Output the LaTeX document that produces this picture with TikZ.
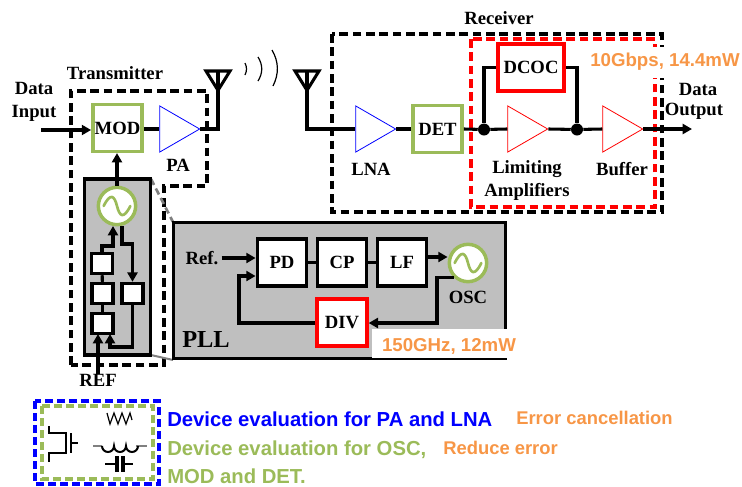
\documentclass[tikz,border=0pt]{standalone}
\usepackage{fontspec}
\setmainfont{Liberation Serif}
\setsansfont{Liberation Sans}
\usetikzlibrary{shapes.geometric,arrows.meta}
\definecolor{boxgreen}{HTML}{9BBB59}
\definecolor{noteorange}{HTML}{F79646}
\definecolor{panelgray}{HTML}{BFBFBF}
\tikzset{
    wire/.style={line width=2.3pt},
    arrowwire/.style={wire, -{Triangle[length=7pt,width=7.5pt]}},
    block/.style={draw, line width=2.6pt, fill=white, inner sep=0pt, font=\bfseries\fontsize{14}{16}\selectfont},
    greenblock/.style={block, draw=boxgreen, minimum width=37pt, minimum height=35pt},
    blackblock/.style={block, minimum width=37pt, minimum height=35pt},
    redblock/.style={block, draw=red, line width=3pt, minimum width=37pt, minimum height=35pt},
    tinyblock/.style={block, minimum width=16pt, minimum height=15pt},
    amp/.style={isosceles triangle, isosceles triangle apex angle=60, draw, line width=0.6pt,
        fill=white, inner sep=0pt, minimum height=30pt, minimum width=34.5pt},
    osc/.style={circle, draw=boxgreen, line width=2.6pt, fill=white, minimum size=28pt, inner sep=0pt},
    lab/.style={font=\bfseries\fontsize{14}{16}\selectfont, inner sep=0pt},
    note/.style={font=\sffamily\bfseries\fontsize{14}{16}\selectfont, text=noteorange, inner sep=0pt},
    legend/.style={font=\sffamily\bfseries\fontsize{15.2}{18}\selectfont, inner sep=0pt, anchor=west},
    dot/.style={circle, fill=black, minimum size=9pt, inner sep=0pt},
    blackdash/.style={line width=2.3pt, dash pattern=on 6.5pt off 3.5pt},
    reddash/.style={line width=2.6pt, draw=red, dash pattern=on 6.5pt off 3.5pt},
    legendframe/.style={line width=2.3pt, dash pattern=on 6pt off 3pt},
}
\newcommand{\sinewave}[1]{\draw[boxgreen, line width=2pt, line cap=round] ([xshift=-10pt]#1.center) .. controls ([xshift=-5pt,yshift=10pt]#1.center) and ([xshift=-2pt,yshift=8pt]#1.center) .. (#1.center) .. controls ([xshift=2pt,yshift=-8pt]#1.center) and ([xshift=5pt,yshift=-10pt]#1.center) .. ([xshift=10pt]#1.center);}
\newcommand{\antenna}[1]{\draw[wire, line join=miter] ([xshift=-9pt]#1) -- ([xshift=9pt]#1) -- ([yshift=-14.5pt]#1) -- cycle;}
\begin{document}
\begin{tikzpicture}[x=0.75pt, y=-0.75pt]
    \useasboundingbox (0,0) rectangle (742,486);

    % --- Receiver frames ---
    \draw[blackdash] (332,34) rectangle (662,212);
    \draw[reddash] (471,39) rectangle (655,207);

    % --- Transmitter frame ---
    \draw[blackdash] (71,365) -- (71,91) -- (207,91) -- (207,186) -- (164,186) -- (164,365) -- cycle;

    % --- Transmitter ---
    \node[lab] (datain1) at (34,88) {Data};
    \node[lab] (datain2) at (34,113) {Input};
    \node[lab] (txlabel) at (115,73) {Transmitter};
    \coordinate (datastart) at (41,130);
    \node[greenblock] (mod) at (117.5,128) {MOD};
    \node[amp, draw=blue] (pa) at (173,129) {};
    \node[lab] (palabel) at (178,165) {PA};
    \coordinate (txant) at (218,71);
    \coordinate (txcorner) at (218,129);
    \antenna{txant}
    \draw[arrowwire] (datastart) -- (mod.west |- datastart);
    \draw[wire] (mod.east |- pa.west) -- (pa.west);
    \draw[wire] (pa.apex) -- (txcorner) -- (txant);

    % Radio waves
    \draw[line width=0.9pt] (245,63) .. controls (247,67) and (247,71) .. (245,75);
    \draw[line width=0.9pt] (258,57) .. controls (263,65) and (263,73) .. (258,81);
    \draw[line width=0.9pt] (272,50) .. controls (279,62) and (279,74) .. (273,86);

    % --- Zoom lines ---
    \coordinate (zoomb) at (173,222);
    \coordinate (zoomc) at (173,360);
    \draw[gray, line width=2pt, dash pattern=on 5pt off 3pt] (151,179) -- (zoomb);
    \draw[gray, line width=1.5pt] (151,355) -- (zoomc);

    % --- Small PLL ---
    \node[draw, line width=2.3pt, fill=panelgray, minimum width=50pt, minimum height=132pt, inner sep=0pt] (smallpll) at (117.5,267) {};
    \node[osc] (smallosc) at (117,206) {};
    \sinewave{smallosc}
    \draw[arrowwire] (smallosc.north) -- (smallosc.north |- mod.south);
    \node[tinyblock] (boxa) at (102,263.5) {};
    \node[tinyblock] (boxb) at (102.5,293.5) {};
    \node[tinyblock] (boxc) at (102.5,323.5) {};
    \node[tinyblock] (boxd) at (132.5,293.5) {};
    \draw[wire] (boxa) -- (boxb);
    \draw[wire] (boxb) -- (boxc);
    \draw[arrowwire] (boxa.north) |- (113,246) -- (113,226);
    \draw[arrowwire] (122,226) |- (132.5,244) -- (boxd.north);
    \draw[arrowwire] (boxd.south) -- (132.5,347) -| (110,334);
    \node[lab] (reflabel) at (98,380) {REF};
    \draw[arrowwire] (reflabel.north -| 98,0) -- (98,334);

    % --- Large PLL ---
    \node[draw, line width=2.6pt, fill=panelgray, minimum width=249pt, minimum height=102pt, inner sep=0pt] (pll) at (339.5,290.5) {};
    \node[font=\bfseries\fontsize{18.3}{20}\selectfont, inner sep=0pt] (plllabel) at (206,340) {PLL};
    \node[lab] (reflab) at (202,258) {Ref.};
    \node[blackblock] (pd) at (282,262.5) {PD};
    \node[blackblock] (cp) at (342,262.5) {CP};
    \node[blackblock] (lf) at (402,262.5) {LF};
    \node[osc] (osc) at (468,263) {};
    \sinewave{osc}
    \node[lab] (osclabel) at (468,297) {OSC};
    \node[redblock] (div) at (342,322.5) {DIV};
    \draw[arrowwire] (reflab.east) ++(3,0) -- (pd.west |- reflab.east);
    \draw[wire] (pd) -- (cp);
    \draw[wire] (cp) -- (lf);
    \draw[arrowwire] (lf.east |- 0,257) -- (osc.west |- 0,257);
    \draw[arrowwire] (osc.225) -- ++(-4,0) -| (437,323) -- (div.east |- 0,323);
    \draw[arrowwire] (div.west |- 0,323) -| (239,276) -- (pd.west |- 0,276);
    \node[fill=white, minimum width=101pt, minimum height=21.75pt, inner sep=0pt] (pllcover) at (439.5,343.5) {};
    \node[note] (pllnote) at (449,346) {150GHz, 12mW};

    % --- Receiver ---
    \node[lab] (rxlabel) at (499,18) {Receiver};
    \coordinate (rxant) at (307,71);
    \coordinate (rxcorner) at (307,129);
    \antenna{rxant}
    \node[amp, draw=blue] (lna) at (369,129) {};
    \node[lab] (lnalabel) at (371,169) {LNA};
    \node[greenblock] (det) at (437.5,129) {DET};
    \node[dot] (dota) at (484,129.5) {};
    \node[dot] (dotb) at (577,129.5) {};
    \node[amp, draw=red] (lim) at (521,129) {};
    \node[amp, draw=red] (buf) at (616,129) {};
    \node[redblock, minimum width=50pt] (dcoc) at (531,67.5) {DCOC};
    \coordinate (dataend) at (692,129);
    \draw[wire] (rxant) -- (rxcorner) -- (lna.west);
    \draw[wire] (lna.apex) -- (det.west |- lna.apex);
    \draw[wire] (det.east |- lna.apex) -- (dota);
    \draw[wire] (dota) -- (lim.west);
    \draw[wire] (lim.apex) -- (dotb);
    \draw[wire] (dotb) -- (buf.west);
    \draw[arrowwire] (buf.apex) -- (dataend);
    \draw[wire] (dota) |- (dcoc.west);
    \draw[wire] (dotb) |- (dcoc.east);
    \node[lab] (limlabel1) at (527,169) {Limiting};
    \node[lab] (limlabel2) at (527,192) {Amplifiers};
    \node[lab] (buflabel) at (622,169) {Buffer};
    \node[lab] (dataout1) at (698,89) {Data};
    \node[lab] (dataout2) at (694,111) {Output};
    \node[fill=white, minimum width=58pt, minimum height=23pt, inner sep=0pt] (rxcover) at (665,62.5) {};
    \node[note] (rxnote) at (665,62) {10Gbps, 14.4mW};

    % --- Legend ---
    \draw[legendframe, blue] (35,401) rectangle (159,484);
    \draw[legendframe, boxgreen] (42,406) rectangle (153,479);

    % Transistor
    \draw[line width=1.5pt] (49,426) -- (49,433) -- (66,433) -- (66,453) -- (49,453) -- (49,462);
    \draw[line width=1.5pt] (71,433) -- (71,453);
    \draw[line width=1.5pt] (71,443) -- (78,443);
    % Resistor
    \draw[line width=0.9pt] (107,413) -- (110,424) -- (114,413) -- (118,424) -- (122,413) -- (126,424) -- (130,413) -- (132,420);
    % Inductor
    \draw[gray, line width=1.2pt] (93,446) -- (102,446);
    \draw[gray, line width=1.2pt] (136,446) -- (147,446);
    \draw[line width=1.5pt] (102,446) arc[start angle=180, end angle=0, radius=6] arc[start angle=180, end angle=0, radius=6] arc[start angle=180, end angle=0, radius=6];
    % Capacitor
    \draw[line width=1.5pt] (105,464) -- (116,464);
    \draw[line width=1.5pt] (124,464) -- (133,464);
    \draw[line width=2.6pt] (117,456) -- (117,472);
    \draw[line width=2.6pt] (123,456) -- (123,472);

    \node[legend, text=blue] (legenda) at (167,419) {Device evaluation for PA and LNA};
    \node[legend, text=boxgreen] (legendb) at (167,450) {Device evaluation for OSC,};
    \node[legend, text=boxgreen] (legendc) at (167,476) {MOD and DET.};
    \node[note, anchor=west, font=\sffamily\bfseries\fontsize{13.8}{16}\selectfont] (errnote) at (516,418) {Error cancellation};
    \node[note, anchor=west, font=\sffamily\bfseries\fontsize{13.8}{16}\selectfont] (rednote) at (443,448) {Reduce error};
\end{tikzpicture}
\end{document}
